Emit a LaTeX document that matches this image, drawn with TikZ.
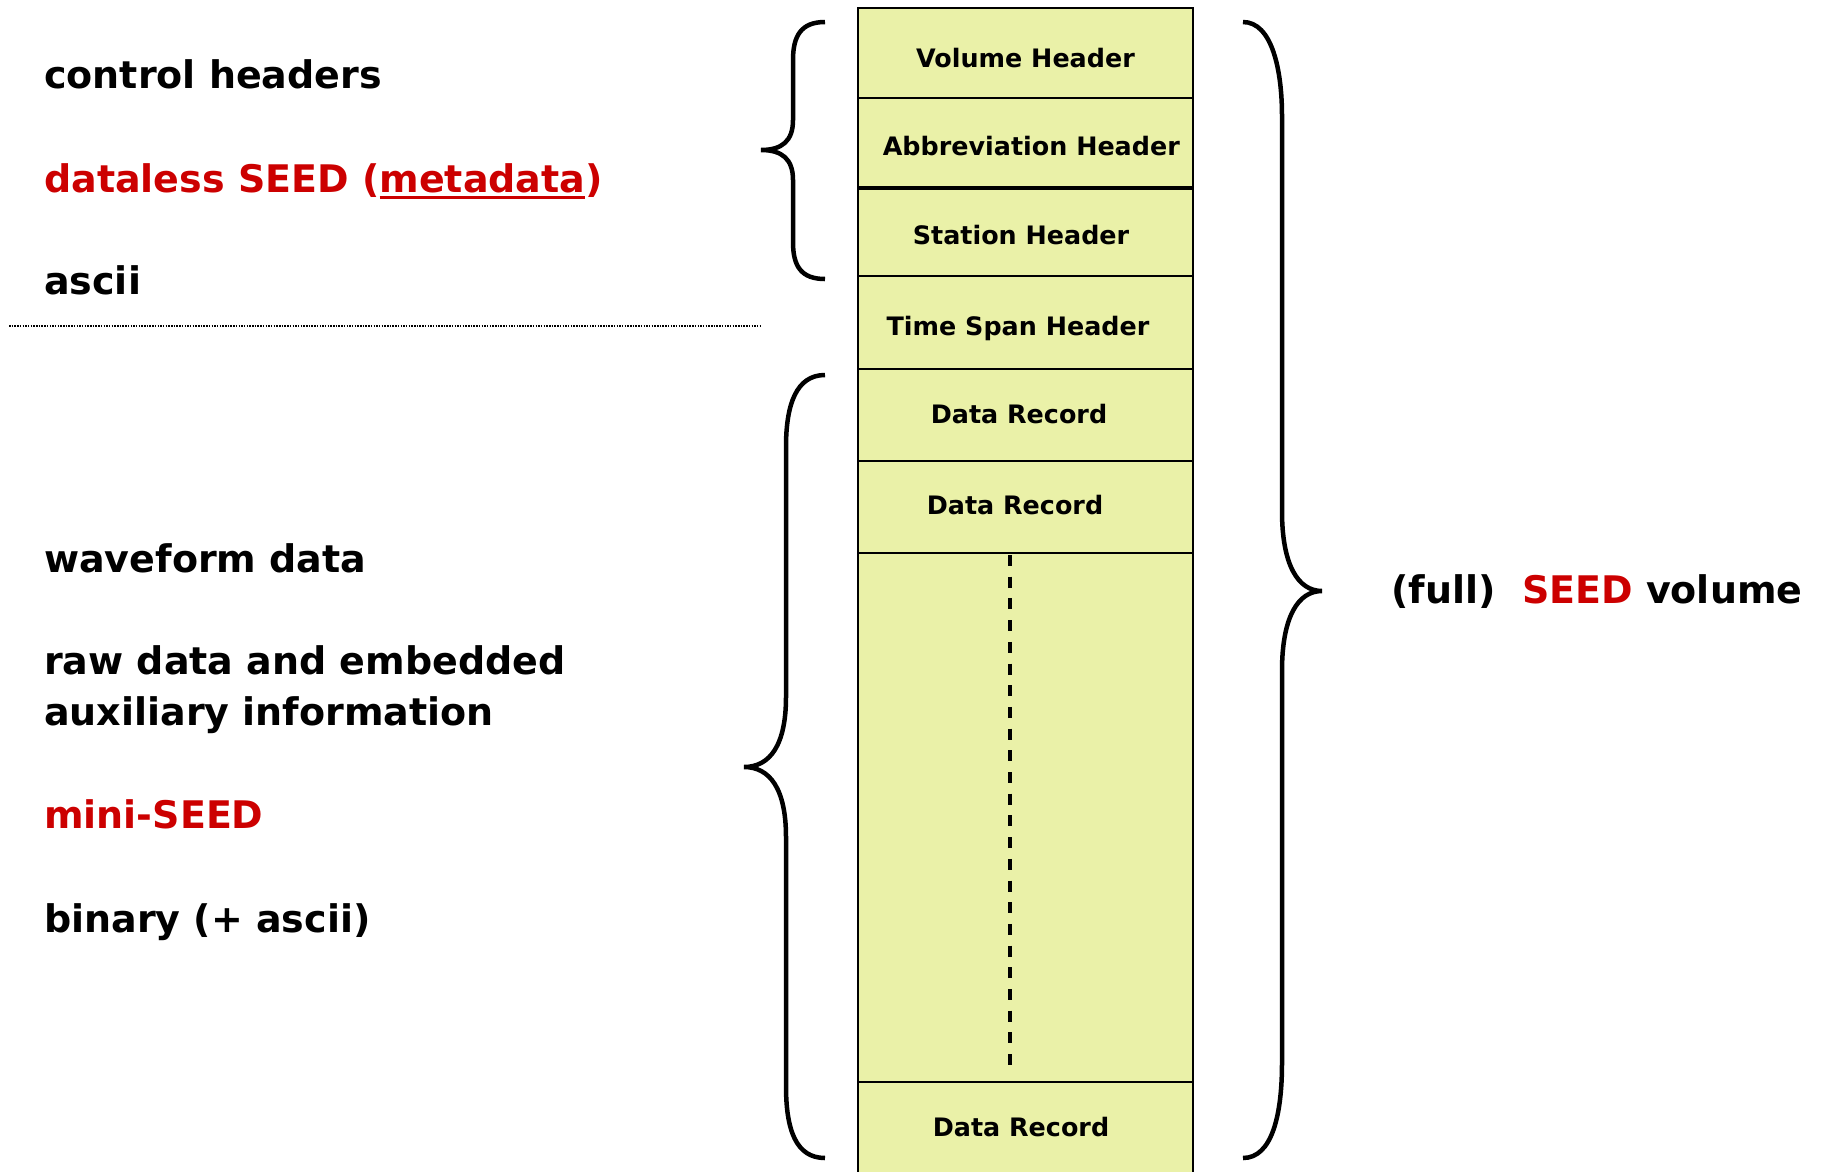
\documentclass[tikz,border=0pt]{standalone}
\usepackage{fontspec}
\setmainfont{DejaVu Sans}
\usetikzlibrary{positioning}
\definecolor{seedred}{RGB}{204,0,0}
\definecolor{recfill}{RGB}{234,241,168}
\newsavebox\ulbox
\newcommand\ulword[1]{\sbox\ulbox{#1}\rlap{\rule[-7pt]{\wd\ulbox}{2.8pt}}\usebox\ulbox}
\tikzset{
  record/.style={draw, line width=2.5pt, fill=recfill, minimum width=335pt,
    outer sep=0pt, inner sep=0pt, text depth=0pt,
    font=\bfseries\fontsize{25.4}{30}\selectfont},
  side/.style={anchor=base west, inner sep=0pt, align=left,
    font=\bfseries\fontsize{38}{51}\selectfont},
  curly/.style={line width=4.5pt},
}
\begin{document}
\begin{tikzpicture}[x=1pt, y=-1pt]
    \useasboundingbox (0,0) rectangle (1821,1171);
    \clip (0,0) rectangle (1821,1171);

    % Left column: what the parts are
    \node[side] (ctrl) at (44,88) {control headers};
    \node[side, text=seedred] (dless) at (44,192) {dataless SEED (\ulword{metadata})};
    \node[side] (asc) at (44,294) {ascii};
    \draw[line width=1.5pt, dash pattern=on 1.5pt off 1.2pt] (9,326) -- (760,326);
    \node[side] (wave) at (44,572) {waveform data};
    \node[side] (raw) at (44,725) {raw data and embedded\\auxiliary information};
    \node[side, text=seedred] (mini) at (44,828) {mini-SEED};
    \node[side] (bin) at (44,932) {binary (+ ascii)};

    % The volume, record by record
    \node[record, minimum height=90pt, text height=28pt, anchor=north] (vol) at (1025.5,8) {Volume Header};
    \node[record, minimum height=89pt, text height=26pt, below=0pt of vol] (abbr) {\hspace*{11.6pt}Abbreviation Header};
    \node[record, minimum height=87pt, text height=23.6pt, below=2pt of abbr] (stat) {Station Header\hspace*{9pt}};
    \node[record, minimum height=93pt, text height=26pt, below=0pt of stat] (tspan) {Time Span Header\hspace*{15pt}};
    \node[record, minimum height=92pt, text height=16.6pt, below=0pt of tspan] (rec1) {Data Record\hspace*{13pt}};
    \node[record, minimum height=92pt, text height=14.4pt, below=0pt of rec1] (rec2) {Data Record\hspace*{21pt}};
    \node[record, minimum height=529pt, below=0pt of rec2] (gap) {};
    \node[record, minimum height=92pt, text height=16.6pt, below=0pt of gap] (recn) {Data Record\hspace*{9pt}};
    \draw[line width=3.2pt, dash pattern=on 11pt off 10.7pt]
        ([xshift=-15.5pt, yshift=-2pt]gap.north) -- ([xshift=-15.5pt, yshift=11pt]gap.south);

    % Header brace
    \draw[curly] (825,22) .. controls (801,22) and (793,36) .. (793,60) -- (793,120)
        .. controls (793,141) and (782,150) .. (761,150)
        .. controls (782,150) and (793,159) .. (793,180) -- (793,242)
        .. controls (793,266) and (801,279) .. (825,279);
    % Data brace
    \draw[curly] (825,375) .. controls (796,375) and (786,405) .. (786,447) -- (786,697)
        .. controls (786,745) and (770,767) .. (744,767)
        .. controls (770,767) and (786,789) .. (786,837) -- (786,1086)
        .. controls (786,1130) and (796,1158) .. (825,1158);
    % Volume brace
    \draw[curly] (1243,22) .. controls (1272,22) and (1282,70) .. (1282,116) -- (1282,511)
        .. controls (1282,565) and (1298,591) .. (1322,591)
        .. controls (1298,591) and (1282,617) .. (1282,671) -- (1282,1063)
        .. controls (1282,1115) and (1272,1158) .. (1243,1158);
    \node[anchor=base west, inner sep=0pt, font=\bfseries\fontsize{38}{50}\selectfont]
        (full) at (1391,603) {(full)\ \ \textcolor{seedred}{SEED} volume};
\end{tikzpicture}
\end{document}
